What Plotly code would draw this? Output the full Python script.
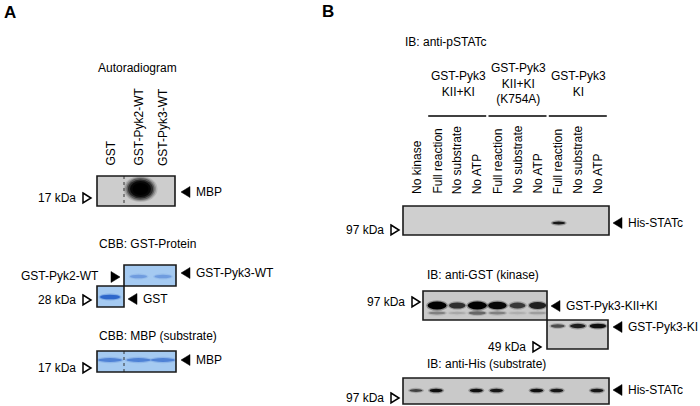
import plotly.graph_objects as go

# ------------------------------------------------------------------ data
A_LANES = ["GST", "GST-Pyk2-WT", "GST-Pyk3-WT"]
A_AUTORAD_MBP = [0.0, 1.0, 0.03]          # 32P signal on MBP
A_CBB_GST = [0.9, None, None]             # GST alone (28 kDa)
A_CBB_KINASE = [None, 0.35, 0.35]         # GST-Pyk2-WT / GST-Pyk3-WT
A_CBB_MBP = [0.6, 0.6, 0.6]               # MBP substrate loading

B_GROUPS = ["GST-Pyk3<br>KII+KI", "GST-Pyk3<br>KII+KI<br>(K754A)", "GST-Pyk3<br>KI"]
B_GROUP_LANES = [[1, 2, 3], [4, 5, 6], [7, 8, 9]]
B_LANES = ["No kinase", "Full reaction", "No substrate", "No ATP",
           "Full reaction", "No substrate", "No ATP",
           "Full reaction", "No substrate", "No ATP"]
B_PSTATC = [0, 0, 0, 0, 0, 0, 0, 0.85, 0, 0]
B_GST_KIIKI = [None, 1.0, 0.7, 1.0, 0.95, 0.65, 0.8, None, None, None]
B_GST_KIIKI_LOWER = [None, 0.35, 0.15, 0.5, 0.35, 0.12, 0.2, None, None, None]
B_GST_KI = [None, None, None, None, None, None, None, 0.55, 0.8, 0.9]
B_HIS = [0.6, 0.9, 0, 0.9, 0.85, 0, 0.9, 0.85, 0, 0.85]

# ------------------------------------------------------------------ style
FONT = "Liberation Sans, Arial, Helvetica, sans-serif"
FS = 12
CBB_BG = "#a5caf1"
CBB_BAND = "37,95,200"

shapes = []
annotations = []


def text(x, y, s, xa="left", ya="middle", size=FS, angle=0, bold=False, align="center"):
    if bold:
        s = "<b>%s</b>" % s
    annotations.append(dict(x=x, y=y, xref="x", yref="y", text=s, showarrow=False,
                            xanchor=xa, yanchor=ya, textangle=angle, align=align,
                            font=dict(family=FONT, size=size, color="black")))


def box_bg(x0, x1, y0, y1, color):
    shapes.append(dict(type="rect", xref="x", yref="y", x0=x0, x1=x1, y0=y0, y1=y1,
                       fillcolor=color, line=dict(width=0), layer="above"))


def box_border(x0, x1, y0, y1):
    shapes.append(dict(type="rect", xref="x", yref="y", x0=x0, x1=x1, y0=y0, y1=y1,
                       fillcolor="rgba(0,0,0,0)", line=dict(color="#1a1a1a", width=1.6),
                       layer="above"))


def ellipse(xc, yc, w, h, rgb, alpha):
    shapes.append(dict(type="circle", xref="x", yref="y",
                       x0=xc - w / 2, x1=xc + w / 2, y0=yc - h / 2, y1=yc + h / 2,
                       fillcolor="rgba(%s,%.3f)" % (rgb, alpha), line=dict(width=0),
                       layer="above"))


def band(xc, yc, w, h, rgb, alpha):
    ellipse(xc, yc, w + 3, h + 2.5, rgb, alpha * 0.3)
    ellipse(xc, yc, w, h, rgb, alpha)


def vdotted(x, y0, y1):
    shapes.append(dict(type="line", xref="x", yref="y", x0=x, x1=x, y0=y0, y1=y1,
                       line=dict(color="#333333", width=1, dash="dot"), layer="above"))


def hline(x0, x1, y):
    shapes.append(dict(type="line", xref="x", yref="y", x0=x0, x1=x1, y0=y, y1=y,
                       line=dict(color="black", width=1.5), layer="above"))


def tri_open_right(x0, yc, w=8, h=10):
    shapes.append(dict(type="path", xref="x", yref="y",
                       path="M %f,%f L %f,%f L %f,%f Z" % (x0, yc - h / 2, x0 + w, yc, x0, yc + h / 2),
                       fillcolor="white", line=dict(color="black", width=1.5), layer="above"))


def tri_fill_right(x0, yc, w=9, h=11):
    shapes.append(dict(type="path", xref="x", yref="y",
                       path="M %f,%f L %f,%f L %f,%f Z" % (x0, yc - h / 2, x0 + w, yc, x0, yc + h / 2),
                       fillcolor="black", line=dict(color="black", width=0.5), layer="above"))


def tri_fill_left(x0, yc, w=9, h=11):
    shapes.append(dict(type="path", xref="x", yref="y",
                       path="M %f,%f L %f,%f L %f,%f Z" % (x0 + w, yc - h / 2, x0, yc, x0 + w, yc + h / 2),
                       fillcolor="black", line=dict(color="black", width=0.5), layer="above"))


def marker_left(label, x_text_right, yc):
    text(x_text_right, yc, label, xa="right")
    tri_open_right(x_text_right + 5, yc)


def marker_right(label, x_tri, yc):
    tri_fill_left(x_tri, yc)
    text(x_tri + 13, yc, label, xa="left")


# ================================================================ panel A
text(2, 12, "A", size=17, bold=True)
A_X0, A_X1 = 97, 176
A_lane_x = [110, 138.5, 163]

text(137, 68, "Autoradiogram", xa="center")
for lx, lab in zip(A_lane_x, A_LANES):
    text(lx, 168, lab, xa="center", ya="bottom", angle=-90)

# autoradiogram blot
box_bg(A_X0, A_X1 - 1, 176, 206, "#cdcdcd")
for lx, v in zip(A_lane_x, A_AUTORAD_MBP):
    if v:
        for k, (sw, sh, a) in enumerate([(34, 26, 0.12), (31, 24, 0.2), (28, 22, 0.35),
                                          (25, 19, 0.55), (21, 16, 0.8), (16, 12, 1.0)]):
            ellipse(lx + 2, 189, sw * v, sh * v, "0,0,0", a * v)
vdotted(124, 176, 206)
box_border(A_X0, A_X1 - 1, 176, 206)
marker_left("17 kDa", 78, 198)
marker_right("MBP", 181, 192)

# CBB: GST-Protein
text(A_X0, 244, "CBB: GST-Protein")
box_bg(124, A_X1, 265, 286, CBB_BG)
box_bg(A_X0, 124, 286, 307, CBB_BG)
for lx, v in zip(A_lane_x, A_CBB_KINASE):
    if v:
        band(lx, 276.5, 17, 2 + 4 * v, CBB_BAND, v)
for lx, v in zip(A_lane_x, A_CBB_GST):
    if v:
        band(lx, 297, 20, 2 + 3 * v, CBB_BAND, v)
box_border(124, A_X1, 265, 286)
box_border(A_X0, 124, 286, 307)
text(101, 276, "GST-Pyk2-WT", xa="right")
tri_fill_right(111, 277)
marker_right("GST-Pyk3-WT", 181, 273)
marker_left("28 kDa", 78, 300)
marker_right("GST", 128, 299)

# CBB: MBP
text(A_X0, 336, "CBB: MBP (substrate)")
box_bg(A_X0, A_X1, 351, 372, CBB_BG)
for lx, v in zip(A_lane_x, A_CBB_MBP):
    band(lx, 360, 24, 2 + 3 * v, CBB_BAND, v)
vdotted(124, 351, 372)
box_border(A_X0, A_X1, 351, 372)
marker_left("17 kDa", 78, 368)
marker_right("MBP", 181, 360)

# ================================================================ panel B
text(320, 11, "B", size=17, bold=True)
B_lane_x = [417 + 20.1 * i for i in range(len(B_LANES))]

text(403, 42, "IB: anti-pSTATc")
for g, lanes in zip(B_GROUPS, B_GROUP_LANES):
    cx = sum(B_lane_x[i] for i in lanes) / len(lanes)
    text(cx + 1, 83.5, g, xa="center")
    hline(cx - 29, cx + 29, 116)
for lx, lab in zip(B_lane_x, B_LANES):
    text(lx, 196, lab, xa="center", ya="bottom", angle=-90)

# pSTATc blot
box_bg(403, 609, 206, 235, "#cfcfcf")
for lx, v in zip(B_lane_x, B_PSTATC):
    if v:
        band(lx + 1, 223, 13, 3, "0,0,0", v)
box_border(403, 609, 206, 235)
marker_left("97 kDa", 386, 230)
marker_right("His-STATc", 613, 223)

# anti-GST blot
text(425, 275, "IB: anti-GST (kinase)")
box_bg(423, 547, 291, 320, "#c9c9c9")
box_bg(547, 608, 320, 349, "#cdcdcd")
for lx, v, lo in zip(B_lane_x, B_GST_KIIKI, B_GST_KIIKI_LOWER):
    if v:
        band(lx, 313, 17, 2 + 3 * lo, "30,30,30", lo)
        band(lx, 305.5, 10 + 9 * v, 2 + 6 * v, "0,0,0", v)
for lx, v in zip(B_lane_x, B_GST_KI):
    if v:
        band(lx, 326, 10 + 7 * v, 1.5 + 3.5 * v, "0,0,0", v)
box_border(423, 547, 291, 320)
box_border(547, 608, 320, 349)
marker_left("97 kDa", 407, 302)
marker_right("GST-Pyk3-KII+KI", 551, 306)
marker_right("GST-Pyk3-KI", 613, 327)
marker_left("49 kDa", 528, 347)

# anti-His blot
text(425, 364, "IB: anti-His (substrate)")
box_bg(403, 609, 378, 404, "#c9c9c9")
for lx, v in zip(B_lane_x, B_HIS):
    if v:
        band(lx - 1, 390.5, 13, 1 + 3 * v, "0,0,0", v)
box_border(403, 609, 378, 404)
marker_left("97 kDa", 386, 398)
marker_right("His-STATc", 613, 390)

# ------------------------------------------------------------------ figure
fig = go.Figure()
fig.add_trace(go.Scatter(x=[0, 700], y=[0, 406], mode="markers",
                         marker=dict(opacity=0), hoverinfo="skip", showlegend=False))
fig.update_layout(
    width=700, height=406, autosize=False,
    margin=dict(l=0, r=0, t=0, b=0),
    paper_bgcolor="white", plot_bgcolor="white",
    xaxis=dict(range=[0, 700], visible=False, fixedrange=True),
    yaxis=dict(range=[406, 0], visible=False, fixedrange=True),
    shapes=shapes, annotations=annotations, showlegend=False,
)
fig.write_html("out.html", config={"displayModeBar": False},
               post_script="document.body.style.margin='0';document.body.style.overflow='hidden';")
